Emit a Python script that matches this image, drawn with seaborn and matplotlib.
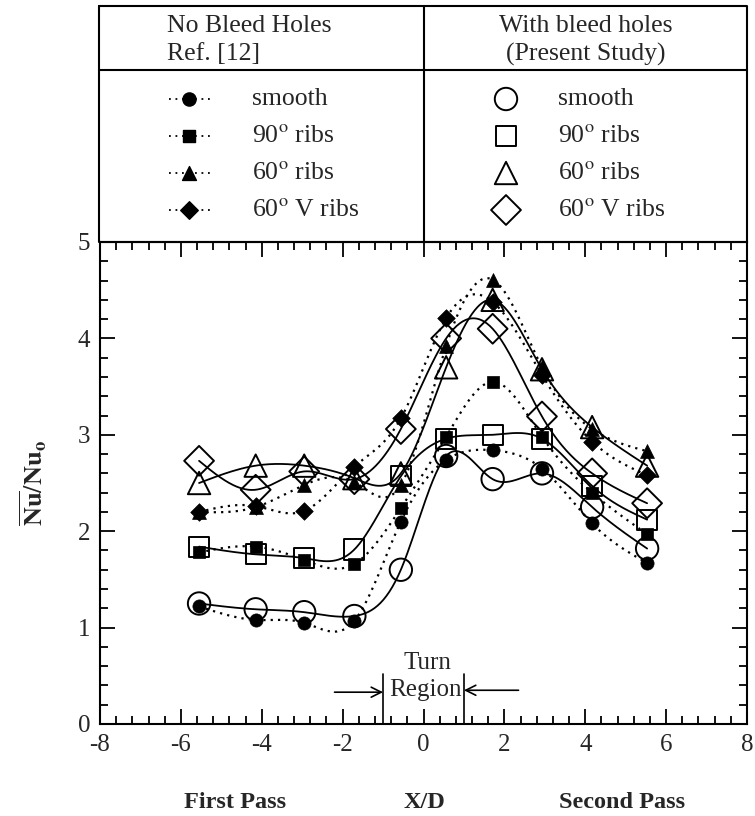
#!/usr/bin/env python3
"""
Nu/Nu_o distribution along X/D: no bleed holes (Ref. [12]) vs with bleed holes.
"""
import numpy as np
import pandas as pd
import matplotlib
matplotlib.use('Agg')
import matplotlib.pyplot as plt
from matplotlib.ticker import MultipleLocator
import seaborn as sns

sns.set_theme(style='ticks')
plt.rcParams['font.family'] = ['Liberation Serif', 'DejaVu Serif']
plt.rcParams['mathtext.fontset'] = 'stix'
plt.rcParams['axes.unicode_minus'] = False

# ---------------------------------------------------------------------------
# Data
# ---------------------------------------------------------------------------
x_d = [-5.55, -4.15, -2.95, -1.71, -0.56, 0.56, 1.71, 2.93, 4.17, 5.53]

# No bleed holes, Ref. [12] (filled markers, dotted lines)
ref_smooth = [1.22, 1.08, 1.05, 1.07, 2.10, 2.74, 2.84, 2.65, 2.08, 1.67]
ref_90 = [1.78, 1.84, 1.70, 1.66, 2.24, 2.98, 3.55, 2.98, 2.40, 1.97]
ref_60 = [2.20, 2.25, 2.48, 2.51, 2.48, 3.92, 4.61, 3.70, 3.06, 2.83]
ref_60v = [2.20, 2.26, 2.21, 2.67, 3.17, 4.21, 4.38, 3.62, 2.93, 2.58]

# With bleed holes, present study (open markers, solid lines)
bh_smooth = [1.25, 1.19, 1.16, 1.12, 1.60, 2.78, 2.54, 2.60, 2.25, 1.82]
bh_90 = [1.84, 1.76, 1.72, 1.81, 2.57, 2.96, 3.00, 2.96, 2.47, 2.12]
bh_60 = [2.50, 2.68, 2.68, 2.55, 2.60, 3.70, 4.40, 3.68, 3.08, 2.68]
bh_60v = [2.73, 2.43, 2.62, 2.54, 3.06, 4.00, 4.10, 3.19, 2.60, 2.29]

case_labels = ['smooth', r'90$^{\rm o}$ ribs', r'60$^{\rm o}$ ribs', r'60$^{\rm o}$ V ribs']
case_markers = ['o', 's', '^', 'D']


def natural_spline(x, y, num=300):
    """Smooth curve through the points (natural cubic spline)."""
    x = np.asarray(x, float)
    y = np.asarray(y, float)
    n = len(x)
    h = np.diff(x)
    A = np.zeros((n, n))
    b = np.zeros(n)
    A[0, 0] = A[-1, -1] = 1
    for i in range(1, n - 1):
        A[i, i - 1] = h[i - 1]
        A[i, i] = 2 * (h[i - 1] + h[i])
        A[i, i + 1] = h[i]
        b[i] = 3 * ((y[i + 1] - y[i]) / h[i] - (y[i] - y[i - 1]) / h[i - 1])
    c = np.linalg.solve(A, b)
    xs = np.linspace(x[0], x[-1], num)
    idx = np.clip(np.searchsorted(x, xs) - 1, 0, n - 2)
    dx = xs - x[idx]
    bb = (y[idx + 1] - y[idx]) / h[idx] - h[idx] * (2 * c[idx] + c[idx + 1]) / 3
    d = (c[idx + 1] - c[idx]) / (3 * h[idx])
    ys = y[idx] + bb * dx + c[idx] * dx ** 2 + d * dx ** 3
    return xs, ys


ref_series = [ref_smooth, ref_90, ref_60, ref_60v]
bh_series = [bh_smooth, bh_90, bh_60, bh_60v]

W, H = 755, 816
fig = plt.figure(figsize=(W / 100, H / 100), dpi=100)
ax = fig.add_axes([100 / W, 1 - 724 / H, 647 / W, 482 / H])

dotted = (0, (1.0, 2.3))
filled_size = {'o': 90, 's': 80, '^': 100, 'D': 80}
open_size = {'o': 260, 's': 210, '^': 260, 'D': 230}

# dotted curves (no bleed holes)
for vals in ref_series:
    xs, ys = natural_spline(x_d, vals)
    sns.lineplot(x=xs, y=ys, ax=ax, color='black', lw=1.6, linestyle=dotted,
                 estimator=None, sort=False)

# solid curves (with bleed holes)
for vals in bh_series:
    xs, ys = natural_spline(x_d, vals)
    sns.lineplot(x=xs, y=ys, ax=ax, color='black', lw=1.3,
                 estimator=None, sort=False)

# markers
for vals, m in zip(ref_series, case_markers):
    sns.scatterplot(x=x_d, y=vals, ax=ax, marker=m, s=filled_size[m],
                    color='black', edgecolor='black', linewidth=0.5, zorder=4)
for vals, m in zip(bh_series, case_markers):
    sns.scatterplot(x=x_d, y=vals, ax=ax, marker=m, s=open_size[m],
                    facecolor='none', edgecolor='black', linewidth=1.4, zorder=5)

ax.set_xlim(-8, 8)
ax.set_ylim(0, 5)
ax.xaxis.set_major_locator(MultipleLocator(2))
ax.xaxis.set_minor_locator(MultipleLocator(0.4))
ax.yaxis.set_major_locator(MultipleLocator(1))
ax.yaxis.set_minor_locator(MultipleLocator(0.2))
ax.tick_params(which='both', direction='in', top=True, right=True,
               width=1.3, color='black')
ax.tick_params(which='major', length=11, labelsize=18, pad=7)
ax.tick_params(which='minor', length=5.5)
for sp in ax.spines.values():
    sp.set_linewidth(1.5)
    sp.set_color('black')
ax.set_xlabel('')
ax.set_ylabel('')
ax.grid(False)

# turn region
for xv in (-1, 1):
    ax.plot([xv, xv], [0, 0.52], color='black', lw=1.2)
ax.annotate('', xy=(-1, 0.33), xytext=(-2.2, 0.33),
            arrowprops=dict(arrowstyle='->', color='black', lw=1.2,
                            mutation_scale=18, shrinkA=0, shrinkB=0))
ax.annotate('', xy=(1, 0.35), xytext=(2.35, 0.35),
            arrowprops=dict(arrowstyle='->', color='black', lw=1.2,
                            mutation_scale=18, shrinkA=0, shrinkB=0))
ax.text(0.09, 0.63, 'Turn', ha='center', va='center', fontsize=18)
ax.text(0.05, 0.35, 'Region', ha='center', va='center', fontsize=18)

# axis titles
fig.text(33 / W, 1 - 483 / H, r'$\overline{\mathbf{Nu}}/\mathbf{Nu}_{\mathbf{o}}$',
         rotation=90, ha='center', va='center', fontsize=19)
fig.text(235 / W, 1 - 803 / H, 'First Pass', ha='center', va='center',
         fontsize=17.5, fontweight='bold')
fig.text(424 / W, 1 - 803 / H, 'X/D', ha='center', va='center',
         fontsize=17.5, fontweight='bold')
fig.text(622 / W, 1 - 803 / H, 'Second Pass', ha='center', va='center',
         fontsize=17.5, fontweight='bold')

# legend table above the plot
lg = fig.add_axes([0, 0, 1, 1])
lg.set_xlim(0, W)
lg.set_ylim(H, 0)
lg.axis('off')
lg.patch.set_visible(False)

top, mid, bot = 6, 70, 242
left, div, right = 99, 424, 747
lg.plot([left, right, right, left, left], [top, top, bot, bot, top], color='black', lw=1.5)
lg.plot([div, div], [top, bot], color='black', lw=1.5)
lg.plot([left, right], [mid, mid], color='black', lw=1.5)

lg.text(167, 26, 'No Bleed Holes', ha='left', va='center', fontsize=18.5)
lg.text(167, 54, 'Ref. [12]', ha='left', va='center', fontsize=18.5)
lg.text(586, 26, 'With bleed holes', ha='center', va='center', fontsize=18.5)
lg.text(586, 54, '(Present Study)', ha='center', va='center', fontsize=18.5)

row_y = [99, 136, 173, 210]
for yy, lab, m in zip(row_y, case_labels, case_markers):
    lg.plot([169, 210], [yy, yy], color='black', lw=1.3, linestyle=(0, (1.0, 2.6)))
    lg.scatter([189], [yy], marker=m, s=filled_size[m], color='black', zorder=3)
    lg.text(252, yy, lab, ha='left', va='center', fontsize=18.5)
    lg.scatter([506], [yy], marker=m, s=open_size[m], facecolor='none',
               edgecolor='black', linewidth=1.4, zorder=3)
    lg.text(558, yy, lab, ha='left', va='center', fontsize=18.5)

fig.savefig('out.png', dpi=100, facecolor='white')
print('saved out.png')
